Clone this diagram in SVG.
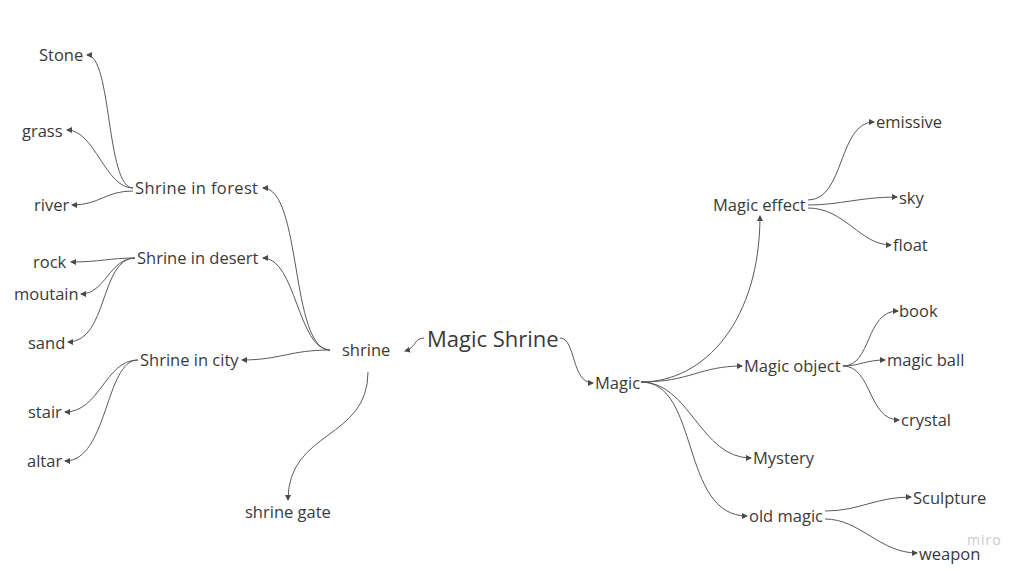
<svg xmlns="http://www.w3.org/2000/svg" width="1024" height="571" viewBox="0 0 1024 571">
<style>
  text { font-family: "Open Sans", "Liberation Sans", sans-serif; font-size: 16.5px; fill: #3a3a3a; }
  .root { font-size: 22px; }
  .wm { font-size: 14px; fill: #c8c9d2; letter-spacing: 1px; }
  .c path { fill: none; stroke: #5a5a5a; stroke-width: 1; marker-end: url(#arr); }
</style>
<defs>
  <marker id="arr" markerUnits="userSpaceOnUse" markerWidth="6" markerHeight="6" refX="5" refY="3" orient="auto">
    <path d="M0,0 L6,3 L0,6 z" fill="#4a4a4a"/>
  </marker>
</defs>
<rect width="1024" height="571" fill="#ffffff"/>
<g id="connectors" class="c">
  <path d="M133,188 C106,188 112,55 87,55"/>
  <path d="M133,188 C105,188 95,130 67,130"/>
  <path d="M133,191 C105,191 100,205 72,205"/>
  <path d="M135,258 C110,258 100,262 71,262"/>
  <path d="M135,258 C110,258 105,294 81,294"/>
  <path d="M135,258 C100,258 108,342 68,342"/>
  <path d="M138,360 C105,360 100,412 65,412"/>
  <path d="M138,360 C105,360 108,461 65,461"/>
  <path d="M330,350 C290,350 302,188 263,188"/>
  <path d="M330,350 C298,350 296,258 263,258"/>
  <path d="M330,350 C290,350 280,360 242,360"/>
  <path d="M368,372 C368,440 288,430 288,500"/>
  <path d="M424,338 C414,338 416,348 405,351"/>
  <path d="M560,338 C576,338 571,383 593,383"/>
  <path d="M641,382 C705,382 760,320 760,216"/>
  <path d="M641,382 C690,382 700,366 742,366"/>
  <path d="M641,382 C690,382 700,458 751,458"/>
  <path d="M641,382 C700,382 680,516 747,516"/>
  <path d="M808,200 C845,200 838,122 874,122"/>
  <path d="M808,205 C840,205 860,197 897,197"/>
  <path d="M808,208 C845,208 860,245 891,245"/>
  <path d="M843,366 C872,366 865,311 898,311"/>
  <path d="M843,366 C860,366 865,360 885,360"/>
  <path d="M843,366 C872,366 868,420 899,420"/>
  <path d="M825,511 C860,511 875,497 911,497"/>
  <path d="M825,519 C860,519 880,553 917,553"/>
</g>
<g id="n-stone"><text x="39" y="61">Stone</text></g>
<g id="n-grass"><text x="22" y="137">grass</text></g>
<g id="n-river"><text x="34" y="211">river</text></g>
<g id="n-forest"><text x="135" y="194" textLength="123" lengthAdjust="spacing">Shrine in forest</text></g>
<g id="n-rock"><text x="33" y="268">rock</text></g>
<g id="n-moutain"><text x="14" y="300">moutain</text></g>
<g id="n-sand"><text x="28" y="349">sand</text></g>
<g id="n-desert"><text x="137" y="264">Shrine in desert</text></g>
<g id="n-city"><text x="140" y="366">Shrine in city</text></g>
<g id="n-stair"><text x="28" y="418">stair</text></g>
<g id="n-altar"><text x="27" y="467">altar</text></g>
<g id="n-shrine"><text x="342" y="356">shrine</text></g>
<g id="n-gate"><text x="245" y="518">shrine gate</text></g>
<g id="n-root"><text class="root" x="427" y="347">Magic Shrine</text></g>
<g id="n-magic"><text x="595" y="389">Magic</text></g>
<g id="n-effect"><text x="713" y="211">Magic effect</text></g>
<g id="n-emissive"><text x="876" y="128">emissive</text></g>
<g id="n-sky"><text x="899" y="204">sky</text></g>
<g id="n-float"><text x="893" y="251">float</text></g>
<g id="n-object"><text x="744" y="372">Magic object</text></g>
<g id="n-book"><text x="899" y="317">book</text></g>
<g id="n-ball"><text x="887" y="366">magic ball</text></g>
<g id="n-crystal"><text x="901" y="426">crystal</text></g>
<g id="n-mystery"><text x="753" y="464">Mystery</text></g>
<g id="n-old"><text x="749" y="522">old magic</text></g>
<g id="n-sculpture"><text x="913" y="504">Sculpture</text></g>
<g id="n-weapon"><text x="919" y="560">weapon</text></g>
<text class="wm" x="967" y="545">miro</text>
</svg>
